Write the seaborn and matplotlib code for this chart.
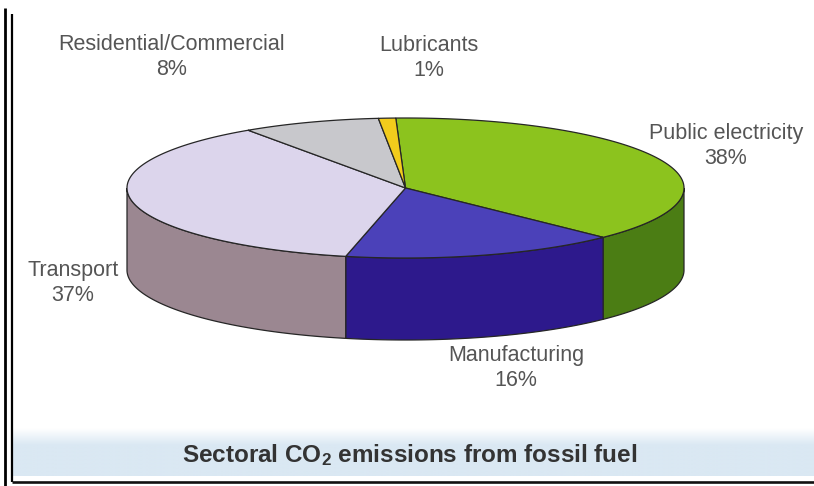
import numpy as np
import matplotlib
matplotlib.use("Agg")
import matplotlib.pyplot as plt
from matplotlib.patches import Polygon
import seaborn as sns

# ---------------- data ----------------
categories = ["Public electricity", "Manufacturing", "Transport",
              "Residential/Commercial", "Lubricants"]
shares = [38, 16, 37, 8, 1]
top_colors = ["#8CC31E", "#4B41B9", "#DCD5EC", "#C8C8CC", "#F2CC1C"]
side_colors = ["#4B7D14", "#2D198C", "#9B8791", "#8E8E92", "#B8960F"]
title_text = "Sectoral CO$_2$ emissions from fossil fuel"

# ---------------- style ----------------
sns.set_theme(style="white")
plt.rcParams["font.family"] = ["Liberation Sans", "DejaVu Sans"]
plt.rcParams["mathtext.fontset"] = "custom"
plt.rcParams["mathtext.rm"] = "Liberation Sans:bold"
plt.rcParams["mathtext.default"] = "rm"

W, H = 814, 486
fig = plt.figure(figsize=(W / 100, H / 100), dpi=100)
fig.patch.set_facecolor("white")
ax = fig.add_axes([0, 0, 1, 1])
ax.set_xlim(0, W)
ax.set_ylim(H, 0)
ax.axis("off")

# pie geometry (layout, pixel space)
cx, cy, rx, ry, depth = 405.5, 188.0, 278.5, 70.0, 82.0
start_angle = 92.0
edge = "#262626"
lw = 0.9


def pt(t_deg, dy=0.0):
    t = np.radians(t_deg)
    return cx + rx * np.cos(t), cy - ry * np.sin(t) + dy


fracs = np.array(shares, dtype=float) / np.sum(shares)
cum = np.concatenate([[0], np.cumsum(fracs)])
theta_s = start_angle - 360 * cum[:-1]
theta_e = start_angle - 360 * cum[1:]

# side walls (front half: sin t < 0)
for i in range(len(shares)):
    lo, hi = theta_e[i], theta_s[i]
    for k in range(-2, 2):
        flo, fhi = -180 + 360 * k, 0 + 360 * k
        a, b = max(lo, flo), min(hi, fhi)
        if b - a <= 1e-6:
            continue
        ts = np.linspace(a, b, 200)
        xs, ys = pt(ts)
        xb, yb = pt(ts[::-1], depth)
        poly = np.column_stack([np.concatenate([xs, xb]), np.concatenate([ys, yb])])
        ax.add_patch(Polygon(poly, closed=True, facecolor=side_colors[i],
                             edgecolor=edge, linewidth=lw, zorder=2))

# top face
for i in range(len(shares)):
    ts = np.linspace(theta_s[i], theta_e[i], 300)
    xs, ys = pt(ts)
    poly = np.column_stack([np.concatenate([[cx], xs]), np.concatenate([[cy], ys])])
    ax.add_patch(Polygon(poly, closed=True, facecolor=top_colors[i],
                         edgecolor=edge, linewidth=lw, zorder=3))

# labels
label_pos = {
    "Public electricity": (726, 146),
    "Manufacturing": (516, 368),
    "Transport": (73, 283),
    "Residential/Commercial": (172, 57),
    "Lubricants": (429, 58),
}
for c, v in zip(categories, shares):
    x, y = label_pos[c]
    ax.text(x, y, f"{c}\n{v}%", ha="center", va="center", fontsize=15.5,
            color="#555555", linespacing=1.2, zorder=5)

# caption band (gradient)
grad = np.linspace(0, 1, 60)
grad = np.clip(grad / 0.35, 0, 1)
top_rgb = np.array([1.0, 1.0, 1.0])
band_rgb = np.array([0xDA, 0xE8, 0xF3]) / 255.0
img = top_rgb[None, :] * (1 - grad[:, None]) + band_rgb[None, :] * grad[:, None]
img = np.repeat(img[:, None, :], 2, axis=1)
ax.imshow(img, extent=[12, W, 476, 428], aspect="auto", zorder=1,
          interpolation="bilinear")
ax.set_xlim(0, W)
ax.set_ylim(H, 0)

ax.text(410, 455, title_text, ha="center", va="center", fontsize=17.5,
        fontweight="bold", color="#333333", zorder=5)

# frame lines
ax.plot([5, 5], [8, H], color="black", linewidth=2.0, solid_capstyle="butt", zorder=6)
ax.plot([12, 12], [14, 482], color="black", linewidth=1.6, solid_capstyle="butt", zorder=6)
ax.plot([12, W], [481.5, 481.5], color="#111111", linewidth=1.9, solid_capstyle="butt", zorder=6)

fig.savefig("out.png", dpi=100, facecolor="white")
